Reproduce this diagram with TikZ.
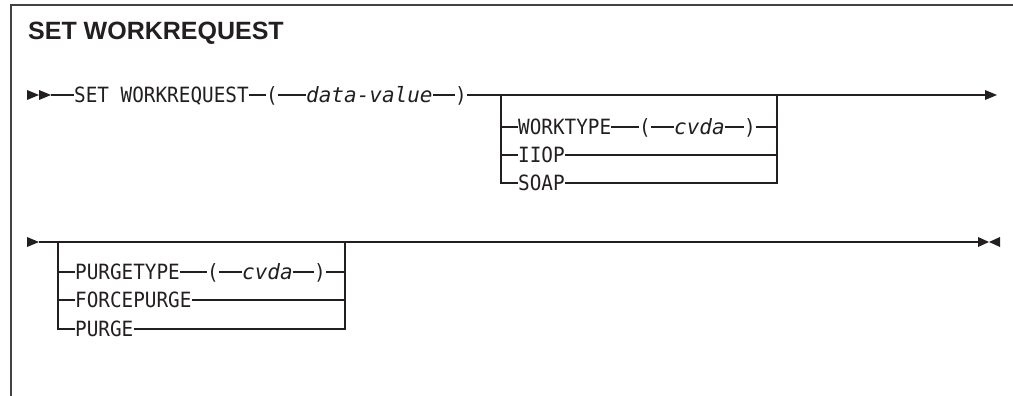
\documentclass[tikz,border=0pt]{standalone}
\usepackage{fontspec}
\setmainfont{Liberation Sans}
\newfontfamily\rrfont[FakeStretch=0.92]{DejaVu Sans Mono}
\newfontfamily\rritfont{DejaVu Sans Mono}
\usetikzlibrary{calc}
\definecolor{ink}{HTML}{231F20}
\begin{document}
\begin{tikzpicture}[x=1pt,y=-1pt,
  rail/.style={draw=ink, line width=1.2pt},
  frameline/.style={draw=ink!85, line width=1.6pt},
  tok/.style={inner sep=0pt, text height=15.3pt, text depth=0pt, text=ink,
    font=\rrfont\fontsize{21}{21}\selectfont},
  itok/.style={tok, font=\rritfont\itshape\fontsize{21}{21}\selectfont},
  tipfill/.style={fill=ink}]
\useasboundingbox (0,0) rectangle (1013,396);
\draw[frameline] (11,396) -- (11,5) -- (1013,5);
\node[anchor=base west, inner sep=0pt, text=ink,
  font=\bfseries\fontsize{25}{25}\selectfont] (title) at (28,40) {SET WORKREQUEST};

% ---- line 1
\fill[tipfill] (27,90) -- (39,95) -- (27,100) -- cycle;
\fill[tipfill] (39,90) -- (51,95) -- (39,100) -- cycle;
\coordinate (s1) at (51,95);
\coordinate (b1l) at (501,95);
\coordinate (b1r) at (777,95);
\coordinate (e1) at (986,95);
\node[tok, anchor=west] (set) at (74,95) {SET WORKREQUEST};
\node[tok] (lp1) at (272,95) {(};
\node[itok, anchor=west] (dv) at (306,95) {data-value};
\node[tok] (rp1) at (461,95) {)};
\draw[rail] (s1) -- (set.west);
\draw[rail] (set.east) -- (lp1.west);
\draw[rail] (lp1.east) -- (dv.west);
\draw[rail] (dv.east) -- (rp1.west);
\draw[rail] (rp1.east) -- (e1);
\fill[tipfill] (985,90) -- (997,95) -- (985,100) -- cycle;

\node[tok, anchor=west] (wt) at (518,127) {WORKTYPE};
\node[tok] (lp2) at (645,127) {(};
\node[itok, anchor=west] (cv1) at (674,127) {cvda};
\node[tok] (rp2) at (750,127) {)};
\node[tok, anchor=west] (iiop) at (518,155) {IIOP};
\node[tok, anchor=west] (soap) at (518,183) {SOAP};
\draw[rail] (b1l) |- (soap.west);
\draw[rail] (b1l |- wt.west) -- (wt.west);
\draw[rail] (b1l |- iiop.west) -- (iiop.west);
\draw[rail] (wt.east) -- (lp2.west);
\draw[rail] (lp2.east) -- (cv1.west);
\draw[rail] (cv1.east) -- (rp2.west);
\draw[rail] (rp2.east) -- (b1r |- rp2.east);
\draw[rail] (iiop.east) -- (b1r |- iiop.east);
\draw[rail] (soap.east) -- (b1r |- soap.east) -- (b1r);

% ---- line 2
\fill[tipfill] (27,237) -- (39,242) -- (27,247) -- cycle;
\coordinate (s2) at (39,242);
\coordinate (b2l) at (58,242);
\coordinate (b2r) at (345,242);
\coordinate (e2) at (978,242);
\draw[rail] (s2) -- (e2);
\draw[rail, line width=1.9pt] (351,241.6) -- (374,241.6);
\fill[tipfill] (978,237) -- (989,242) -- (978,247) -- cycle;
\fill[tipfill] (1000,237) -- (989,242) -- (1000,247) -- cycle;

\node[tok, anchor=west] (pt) at (75,272) {PURGETYPE};
\node[tok] (lp3) at (213,272) {(};
\node[itok, anchor=west] (cv2) at (242,272) {cvda};
\node[tok] (rp3) at (320,272) {)};
\node[tok, anchor=west] (fp) at (75,300) {FORCEPURGE};
\node[tok, anchor=west] (pg) at (75,329) {PURGE};
\draw[rail] (b2l) |- (pg.west);
\draw[rail] (b2l |- pt.west) -- (pt.west);
\draw[rail] (b2l |- fp.west) -- (fp.west);
\draw[rail] (pt.east) -- (lp3.west);
\draw[rail] (lp3.east) -- (cv2.west);
\draw[rail] (cv2.east) -- (rp3.west);
\draw[rail] (rp3.east) -- (b2r |- rp3.east);
\draw[rail] (fp.east) -- (b2r |- fp.east);
\draw[rail] (pg.east) -- (b2r |- pg.east) -- (b2r);
\end{tikzpicture}
\end{document}
